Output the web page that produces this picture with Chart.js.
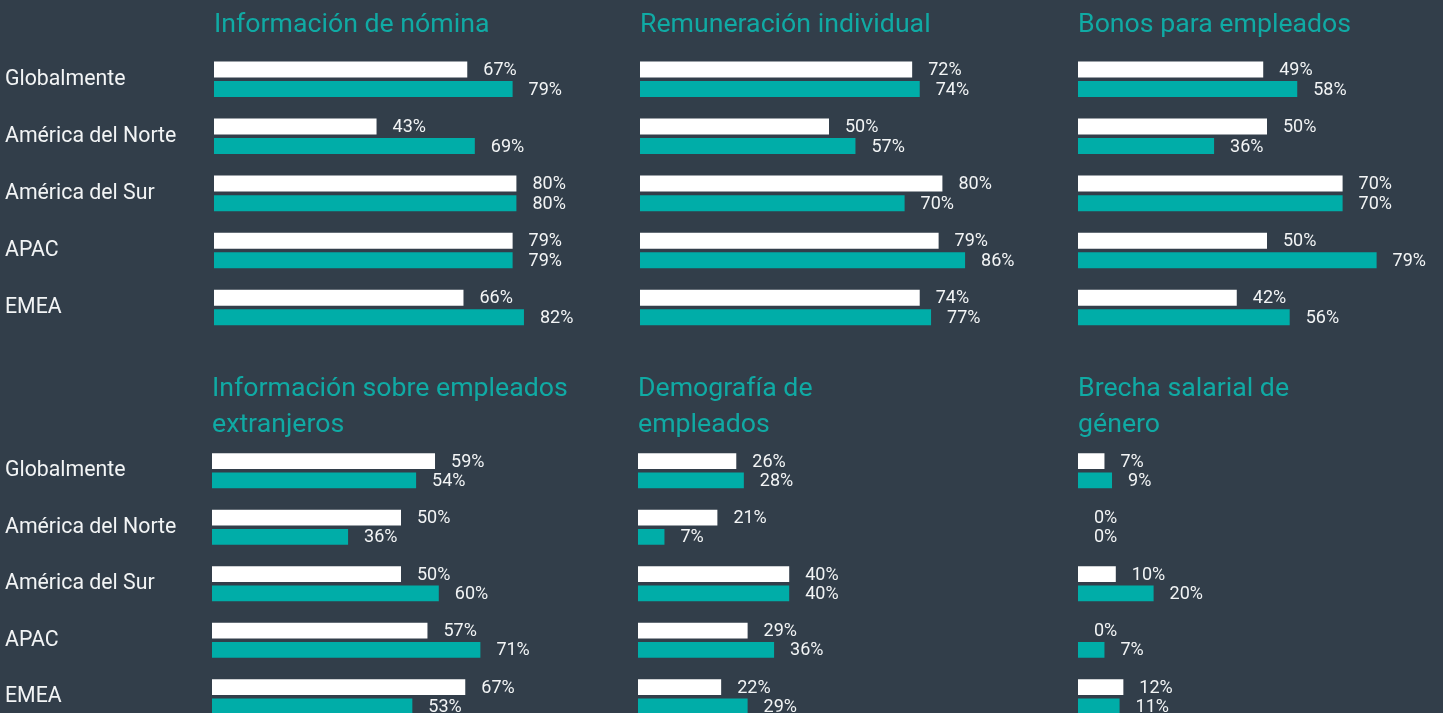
<!DOCTYPE html>
<html lang="es">
<head>
<meta charset="utf-8">
<title>Transparencia salarial por región</title>
<script src="https://cdn.jsdelivr.net/npm/chart.js@4.4.1/dist/chart.umd.min.js"></script>
<style>
  html, body { margin: 0; padding: 0; width: 1443px; height: 713px; overflow: hidden; background: #323e4a; }
  .panel { position: absolute; }
</style>
</head>
<body>
<div class="panel" id="p1"><canvas></canvas></div>
<div class="panel" id="p2"><canvas></canvas></div>
<div class="panel" id="p3"><canvas></canvas></div>
<div class="panel" id="p4"><canvas></canvas></div>
<div class="panel" id="p5"><canvas></canvas></div>
<div class="panel" id="p6"><canvas></canvas></div>
<script>
// Regions shown on every panel
const categories = ['Globalmente', 'América del Norte', 'América del Sur', 'APAC', 'EMEA'];

// Panel titles (multi-line where the title wraps)
const titleNomina = ['Información de nómina'];
const titleRemuneracion = ['Remuneración individual'];
const titleBonos = ['Bonos para empleados'];
const titleExtranjeros = ['Información sobre empleados', 'extranjeros'];
const titleDemografia = ['Demografía de', 'empleados'];
const titleBrecha = ['Brecha salarial de', 'género'];

// Percentages per region: first series (upper bar) and second series (lower bar)
const nominaA = [67, 43, 80, 79, 66];
const nominaB = [79, 69, 80, 79, 82];
const remuneracionA = [72, 50, 80, 79, 74];
const remuneracionB = [74, 57, 70, 86, 77];
const bonosA = [49, 50, 70, 50, 42];
const bonosB = [58, 36, 70, 79, 56];
const extranjerosA = [59, 50, 50, 57, 67];
const extranjerosB = [54, 36, 60, 71, 53];
const demografiaA = [26, 21, 40, 29, 22];
const demografiaB = [28, 7, 40, 36, 29];
const brechaA = [7, 0, 10, 0, 12];
const brechaB = [9, 0, 20, 7, 11];

const COLOR_A = '#ffffff';
const COLOR_B = '#00ada8';
const TITLE_COLOR = '#10aaa4';
const TEXT_COLOR = '#f2f4f5';
const PX_PER_UNIT = 3.78;   // horizontal scale shared by all panels
const X_MAX = 100;

// Writes "NN%" to the right of every bar
const valueLabels = {
  id: 'valueLabels',
  afterDatasetsDraw(chart) {
    const ctx = chart.ctx;
    ctx.save();
    ctx.font = '18px Roboto';
    ctx.fillStyle = TEXT_COLOR;
    ctx.textAlign = 'left';
    ctx.textBaseline = 'middle';
    chart.data.datasets.forEach((ds, i) => {
      chart.getDatasetMeta(i).data.forEach((bar, j) => {
        ctx.fillText(ds.data[j] + '%', bar.x + 16, bar.y + 1);
      });
    });
    ctx.restore();
  }
};

function makePanel(id, opts) {
  const { title, a, b, barLeft, top, height, showLabels, titlePad, bottomPad } = opts;
  const labelStart = 5;
  const left = showLabels ? 0 : barLeft;
  const width = (barLeft - left) + X_MAX * PX_PER_UNIT + 60;
  const el = document.getElementById(id);
  el.style.left = left + 'px';
  el.style.top = top + 'px';
  el.style.width = width + 'px';
  el.style.height = height + 'px';

  new Chart(el.querySelector('canvas'), {
    type: 'bar',
    data: {
      labels: categories,
      datasets: [
        { data: a, backgroundColor: COLOR_A, borderWidth: 0 },
        { data: b, backgroundColor: COLOR_B, borderWidth: 0 }
      ]
    },
    options: {
      indexAxis: 'y',
      responsive: true,
      maintainAspectRatio: false,
      animation: false,
      events: [],
      categoryPercentage: 0.685,
      barPercentage: 0.82,
      layout: { padding: { left: showLabels ? labelStart : 0, right: 60, top: 0, bottom: bottomPad } },
      scales: {
        x: { display: false, min: 0, max: X_MAX },
        y: {
          display: showLabels,
          grid: { display: false },
          border: { display: false },
          ticks: {
            color: TEXT_COLOR,
            crossAlign: 'far',
            autoSkip: false,
            font: { family: 'Roboto', size: 21.3 }
          },
          afterFit(scale) {
            if (showLabels) scale.width = barLeft - labelStart;
            // region names sit beside their bars, so no extra room above/below
            scale.paddingTop = 0;
            scale.paddingBottom = 0;
          }
        }
      },
      plugins: {
        legend: { display: false },
        tooltip: { enabled: false },
        title: {
          display: true,
          text: title,
          align: 'start',
          fullSize: false,
          color: TITLE_COLOR,
          font: { family: 'Roboto', size: 26.7, weight: 'normal', lineHeight: 1.32 },
          padding: titlePad
        }
      }
    },
    plugins: [valueLabels]
  });
}

const row1 = { top: 0, height: 340, titlePad: { top: 7.9, bottom: 7.6 }, bottomPad: 4 };
const row2 = { top: 340, height: 385, titlePad: { top: 32, bottom: 0 }, bottomPad: 0 };

makePanel('p1', { ...row1, title: titleNomina, a: nominaA, b: nominaB, barLeft: 214, showLabels: true });
makePanel('p2', { ...row1, title: titleRemuneracion, a: remuneracionA, b: remuneracionB, barLeft: 640, showLabels: false });
makePanel('p3', { ...row1, title: titleBonos, a: bonosA, b: bonosB, barLeft: 1078, showLabels: false });
makePanel('p4', { ...row2, title: titleExtranjeros, a: extranjerosA, b: extranjerosB, barLeft: 212, showLabels: true });
makePanel('p5', { ...row2, title: titleDemografia, a: demografiaA, b: demografiaB, barLeft: 638, showLabels: false });
makePanel('p6', { ...row2, title: titleBrecha, a: brechaA, b: brechaB, barLeft: 1078, showLabels: false });
</script>
</body>
</html>
